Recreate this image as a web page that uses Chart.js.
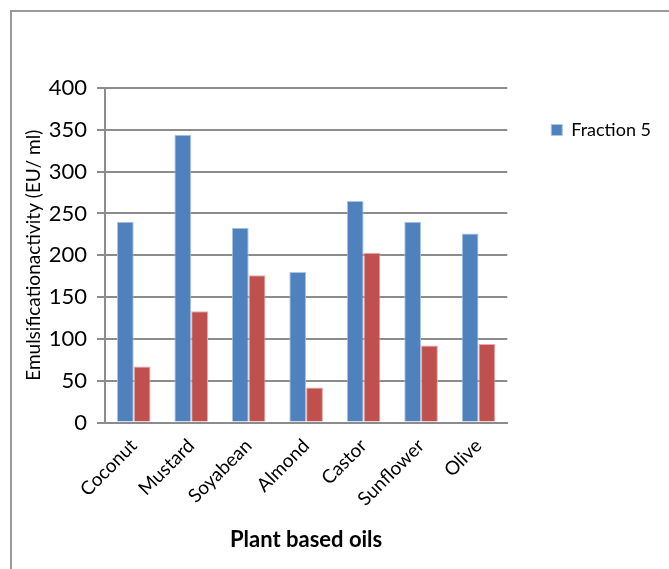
<!DOCTYPE html>
<html>
<head>
<meta charset="utf-8">
<script src="https://cdn.jsdelivr.net/npm/chart.js@4.4.1/dist/chart.umd.min.js"></script>
<style>
  html, body { margin: 0; padding: 0; background: #fff; overflow: hidden; }
  #wrap { position: relative; width: 669px; height: 569px; }
  #frame { position: absolute; left: 10px; top: 10px; width: 700px; height: 600px;
           border-left: 2px solid #9a9a9a; border-top: 2px solid #9a9a9a; pointer-events: none; }
  canvas { position: absolute; left: 0; top: 0; }
</style>
</head>
<body>
<div id="wrap">
  <canvas id="chart" width="669" height="569"></canvas>
  <div id="frame"></div>
</div>
<script>
var categories = ["Coconut", "Mustard", "Soyabean", "Almond", "Castor", "Sunflower", "Olive"];
var fraction5 = [240, 344, 233, 180, 265, 240, 226];
var secondSeries = [67, 133, 176, 42, 203, 92, 94];
var yTicks = [0, 50, 100, 150, 200, 250, 300, 350, 400];

var fontFamily = "Lato, 'Open Sans', sans-serif";
var gridColor = '#8c8c8c';

var ctx = document.getElementById("chart");
var myChart = new Chart(ctx, {
    type: 'bar',
    data: {
        labels: categories,
        datasets: [{
            label: 'Fraction 5',
            data: fraction5,
            backgroundColor: '#4F81BD',
            borderColor: '#a9c4e6',
            borderWidth: 1
        }, {
            label: '',
            data: secondSeries,
            backgroundColor: '#C0504D',
            borderColor: '#e6aaa8',
            borderWidth: 1
        }]
    },
    options: {
        responsive: false,
        animation: false,
        devicePixelRatio: 1,
        layout: {
            padding: { left: 7, top: 88, right: 8, bottom: 16 }
        },
        plugins: {
            legend: {
                position: 'right',
                align: 'start',
                maxWidth: 220,
                labels: {
                    filter: function(item) { return item.datasetIndex === 0; },
                    boxWidth: 11,
                    boxHeight: 11,
                    padding: 33,
                    color: '#000',
                    font: { family: fontFamily, size: 18 }
                }
            },
            tooltip: { enabled: false }
        },
        datasets: {
            bar: { barPercentage: 1.0, categoryPercentage: 0.585 }
        },
        scales: {
            x: {
                grid: { display: false },
                border: { display: true, color: gridColor, width: 2 },
                ticks: {
                    color: '#000',
                    minRotation: 45,
                    maxRotation: 45,
                    padding: 4,
                    font: { family: fontFamily, size: 19 }
                },
                title: {
                    display: true,
                    text: 'Plant based oils',
                    color: '#000',
                    padding: { top: 12, bottom: 0 },
                    font: { family: fontFamily, size: 22, weight: 'bold' }
                }
            },
            y: {
                min: 0,
                max: 400,
                afterBuildTicks: function(scale) {
                    scale.ticks = yTicks.map(function(v) { return { value: v }; });
                },
                afterFit: function(scale) { scale.width = 98; },
                grid: { color: gridColor, lineWidth: 2, tickLength: 8, drawTicks: true },
                border: { display: true, color: gridColor, width: 2 },
                ticks: {
                    color: '#000',
                    padding: 10,
                    font: { family: fontFamily, size: 22 }
                },
                title: {
                    display: true,
                    text: 'Emulsificationactivity (EU/ ml)',
                    color: '#000',
                    padding: { top: 15, bottom: 0 },
                    font: { family: fontFamily, size: 19 }
                }
            },
            yRight: {
                position: 'right',
                display: true,
                grid: { display: false },
                border: { display: false },
                ticks: { display: false },
                afterFit: function(scale) { scale.width = 11; }
            }
        }
    }
});
</script>
</body>
</html>
